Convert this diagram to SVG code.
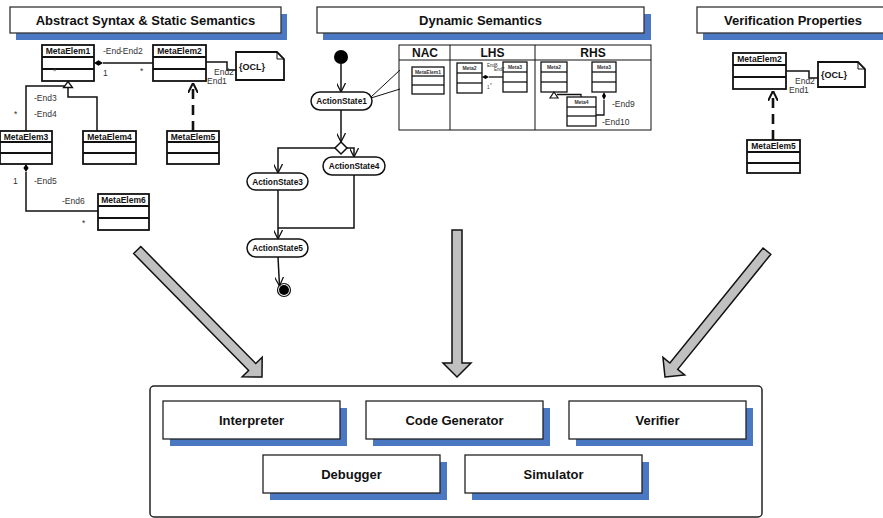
<svg xmlns="http://www.w3.org/2000/svg" width="883" height="518" viewBox="0 0 883 518">
<style>
  .bg{fill:#ffffff}
  .title{fill:#fff;stroke:#333;stroke-width:1.3}
  .shadow{fill:#4a78c2}
  .tt{font-family:"Liberation Sans",Arial,sans-serif;font-weight:bold;font-size:13px;fill:#111;text-anchor:middle}
  .cls{fill:#fff;stroke:#111;stroke-width:1.8}
  .cl{stroke:#111;stroke-width:1.8}
  .cn{font-family:"Liberation Sans",Arial,sans-serif;font-weight:bold;font-size:8.5px;fill:#111;text-anchor:middle}
  .scls{fill:#fff;stroke:#111;stroke-width:1.3}
  .scl{stroke:#111;stroke-width:1.3}
  .sn{font-family:"Liberation Sans",Arial,sans-serif;font-weight:bold;font-size:5px;fill:#333;text-anchor:middle}
  .lb{font-family:"Liberation Sans",Arial,sans-serif;font-size:8.5px;fill:#333}
  .tiny{font-family:"Liberation Sans",Arial,sans-serif;font-size:4.5px;fill:#333}
  .ln{fill:none;stroke:#111;stroke-width:1.5}
  .thin{fill:none;stroke:#111;stroke-width:1}
  .dash{fill:none;stroke:#111;stroke-width:2.6;stroke-dasharray:10 6}
  .act{fill:#fff;stroke:#111;stroke-width:1.5}
  .an{font-family:"Liberation Sans",Arial,sans-serif;font-weight:bold;font-size:8.3px;fill:#111;text-anchor:middle}
  .hd{font-family:"Liberation Sans",Arial,sans-serif;font-weight:bold;font-size:12px;fill:#111;text-anchor:middle}
  .ocl{font-family:"Liberation Sans",Arial,sans-serif;font-weight:bold;font-size:9px;fill:#111}
  .big{fill:#c0c0c0;stroke:#111;stroke-width:1.5;stroke-linejoin:miter}
  .box{fill:#fff;stroke:#222;stroke-width:1.3}
  .bt{font-family:"Liberation Sans",Arial,sans-serif;font-weight:bold;font-size:13px;fill:#111;text-anchor:middle}
</style>
<defs>
  <marker id="open" viewBox="0 0 10 10" refX="10" refY="5" markerWidth="9" markerHeight="9" markerUnits="userSpaceOnUse" orient="auto">
    <path d="M0,0 L10,5 L0,10" fill="none" stroke="#111" stroke-width="1.4"/>
  </marker>
  <marker id="openB" viewBox="0 0 10 10" refX="10" refY="5" markerWidth="10" markerHeight="10" markerUnits="userSpaceOnUse" orient="auto">
    <path d="M0,0 L10,5 L0,10" fill="none" stroke="#111" stroke-width="2"/>
  </marker>
</defs>
<rect class="bg" x="0" y="0" width="883" height="518"/>

<!-- Titles -->
<g id="title-abstract">
  <rect class="shadow" x="16" y="14" width="271" height="26"/>
  <rect class="title" x="10" y="7" width="271" height="26"/>
  <text class="tt" x="145.5" y="25">Abstract Syntax &amp; Static Semantics</text>
</g>
<g id="title-dynamic">
  <rect class="shadow" x="323" y="14" width="328" height="26"/>
  <rect class="title" x="317" y="7" width="327" height="26"/>
  <text class="tt" x="480.5" y="25">Dynamic Semantics</text>
</g>
<g id="title-verification">
  <rect class="shadow" x="703" y="14" width="200" height="26"/>
  <rect class="title" x="697" y="7" width="193" height="26"/>
  <text class="tt" x="793" y="25">Verification Properties</text>
</g>

<!-- Abstract syntax class diagram -->
<g id="MetaElem1">
  <rect class="cls" x="42" y="45" width="52" height="36"/>
  <line class="cl" x1="42" y1="57" x2="94" y2="57"/><line class="cl" x1="42" y1="69" x2="94" y2="69"/>
  <text class="cn" x="68" y="54">MetaElem1</text>
</g>
<g id="MetaElem2">
  <rect class="cls" x="153" y="45" width="53" height="36"/>
  <line class="cl" x1="153" y1="57" x2="206" y2="57"/><line class="cl" x1="153" y1="69" x2="206" y2="69"/>
  <text class="cn" x="179.5" y="54">MetaElem2</text>
</g>
<g id="OCL1">
  <path class="cls" d="M236,52 H277 L284,59 V80 H236 Z"/>
  <path class="thin" d="M277,52 V59 H284"/>
  <text class="ocl" x="239" y="70">{OCL}</text>
</g>
<g id="MetaElem3">
  <rect class="cls" x="0" y="131" width="52" height="33"/>
  <line class="cl" x1="0" y1="142" x2="52" y2="142"/><line class="cl" x1="0" y1="153" x2="52" y2="153"/>
  <text class="cn" x="26" y="139.5">MetaElem3</text>
</g>
<g id="MetaElem4">
  <rect class="cls" x="83" y="131" width="53" height="33"/>
  <line class="cl" x1="83" y1="142" x2="136" y2="142"/><line class="cl" x1="83" y1="153" x2="136" y2="153"/>
  <text class="cn" x="109.5" y="139.5">MetaElem4</text>
</g>
<g id="MetaElem5">
  <rect class="cls" x="167" y="131" width="52" height="33"/>
  <line class="cl" x1="167" y1="142" x2="219" y2="142"/><line class="cl" x1="167" y1="153" x2="219" y2="153"/>
  <text class="cn" x="193" y="139.5">MetaElem5</text>
</g>
<g id="MetaElem6">
  <rect class="cls" x="98" y="194" width="51" height="36"/>
  <line class="cl" x1="98" y1="206" x2="149" y2="206"/><line class="cl" x1="98" y1="218" x2="149" y2="218"/>
  <text class="cn" x="123.5" y="202.5">MetaElem6</text>
</g>

<!-- Dynamic semantics activity -->
<g id="initial"><circle cx="341" cy="57" r="7" fill="#000"/></g>
<g id="ActionState1">
  <rect class="act" x="311" y="92" width="61" height="18" rx="9"/>
  <text class="an" x="341.5" y="104">ActionState1</text>
</g>
<g id="decision"><polygon class="act" points="341,142 347,148 341,154 335,148"/></g>
<g id="ActionState4">
  <rect class="act" x="323" y="157" width="62" height="18" rx="9"/>
  <text class="an" x="354" y="169">ActionState4</text>
</g>
<g id="ActionState3">
  <rect class="act" x="247" y="173" width="61" height="17" rx="8.5"/>
  <text class="an" x="277.5" y="184.5">ActionState3</text>
</g>
<g id="ActionState5">
  <rect class="act" x="247" y="239" width="61" height="18" rx="9"/>
  <text class="an" x="277.5" y="251">ActionState5</text>
</g>
<g id="final">
  <circle cx="284" cy="290" r="6.5" fill="#fff" stroke="#111" stroke-width="1.2"/>
  <circle cx="284" cy="290" r="5" fill="#000"/>
</g>

<!-- Rule NAC/LHS/RHS -->
<g id="rule">
  <rect x="399" y="45" width="252" height="85" fill="#fff" stroke="#111" stroke-width="1"/>
  <line class="thin" x1="399" y1="60" x2="651" y2="60"/>
  <line class="thin" x1="450" y1="45" x2="450" y2="130"/>
  <line class="thin" x1="535" y1="45" x2="535" y2="130"/>
  <text class="hd" x="425" y="57">NAC</text>
  <text class="hd" x="492.5" y="57">LHS</text>
  <text class="hd" x="593" y="57">RHS</text>
</g>
<g id="NAC-MetaElem1">
  <rect class="scls" x="412" y="67" width="32" height="27"/>
  <line class="scl" x1="412" y1="76" x2="444" y2="76"/><line class="scl" x1="412" y1="85" x2="444" y2="85"/>
  <text class="sn" x="428" y="73.5">MetaElem1</text>
</g>
<g id="LHS-Meta2">
  <rect class="scls" x="457" y="63" width="25" height="30"/>
  <line class="scl" x1="457" y1="73" x2="482" y2="73"/><line class="scl" x1="457" y1="83" x2="482" y2="83"/>
  <text class="sn" x="469.5" y="70">Meta2</text>
</g>
<g id="LHS-Meta3">
  <rect class="scls" x="503" y="62" width="24" height="30"/>
  <line class="scl" x1="503" y1="72" x2="527" y2="72"/><line class="scl" x1="503" y1="82" x2="527" y2="82"/>
  <text class="sn" x="515" y="69">Meta3</text>
</g>
<g id="RHS-Meta2">
  <rect class="scls" x="541" y="62" width="26" height="30"/>
  <line class="scl" x1="541" y1="72" x2="567" y2="72"/><line class="scl" x1="541" y1="82" x2="567" y2="82"/>
  <text class="sn" x="554" y="69">Meta2</text>
</g>
<g id="RHS-Meta3">
  <rect class="scls" x="592" y="62" width="24" height="30"/>
  <line class="scl" x1="592" y1="72" x2="616" y2="72"/><line class="scl" x1="592" y1="82" x2="616" y2="82"/>
  <text class="sn" x="604" y="69">Meta3</text>
</g>
<g id="RHS-Meta4">
  <rect class="scls" x="567" y="97" width="29" height="29"/>
  <line class="scl" x1="567" y1="107" x2="596" y2="107"/><line class="scl" x1="567" y1="116" x2="596" y2="116"/>
  <text class="sn" x="581.5" y="104">Meta4</text>
</g>

<!-- Verification -->
<g id="V-MetaElem2">
  <rect class="cls" x="733" y="53" width="53" height="36"/>
  <line class="cl" x1="733" y1="65" x2="786" y2="65"/><line class="cl" x1="733" y1="77" x2="786" y2="77"/>
  <text class="cn" x="759.5" y="62">MetaElem2</text>
</g>
<g id="OCL2">
  <path class="cls" d="M818,62 H858 L865,69 V87 H818 Z"/>
  <path class="thin" d="M858,62 V69 H865"/>
  <text class="ocl" x="821" y="78">{OCL}</text>
</g>
<g id="V-MetaElem5">
  <rect class="cls" x="747" y="140" width="53" height="33"/>
  <line class="cl" x1="747" y1="152" x2="800" y2="152"/><line class="cl" x1="747" y1="163" x2="800" y2="163"/>
  <text class="cn" x="773.5" y="149">MetaElem5</text>
</g>

<!-- Tool box -->
<g id="tools">
  <rect x="150" y="386" width="612" height="131" rx="4" fill="#fff" stroke="#222" stroke-width="1.5"/>
</g>
<g id="Interpreter">
  <rect class="shadow" x="170" y="408" width="177" height="38"/>
  <rect class="box" x="163" y="401" width="177" height="38"/>
  <text class="bt" x="251.5" y="424.5">Interpreter</text>
</g>
<g id="CodeGenerator">
  <rect class="shadow" x="373" y="408" width="177" height="38"/>
  <rect class="box" x="366" y="401" width="177" height="38"/>
  <text class="bt" x="454.5" y="424.5">Code Generator</text>
</g>
<g id="Verifier">
  <rect class="shadow" x="576" y="408" width="177" height="38"/>
  <rect class="box" x="569" y="401" width="177" height="38"/>
  <text class="bt" x="657.5" y="424.5">Verifier</text>
</g>
<g id="Debugger">
  <rect class="shadow" x="270" y="462" width="177" height="38"/>
  <rect class="box" x="263" y="455" width="177" height="38"/>
  <text class="bt" x="351.5" y="478.5">Debugger</text>
</g>
<g id="Simulator">
  <rect class="shadow" x="472" y="462" width="177" height="38"/>
  <rect class="box" x="465" y="455" width="177" height="38"/>
  <text class="bt" x="553.5" y="478.5">Simulator</text>
</g>

<!-- Connectors -->
<g id="connectors">
  <!-- MetaElem1 - MetaElem2 composition -->
  <line class="ln" x1="103" y1="63" x2="153" y2="63"/>
  <polygon points="94,63 98.5,60.3 103,63 98.5,65.7" fill="#000"/>
  <text class="lb" x="103" y="54">-End</text>
  <text class="lb" x="120" y="54">-End2</text>
  <text class="lb" x="103" y="76">1</text>
  <text class="lb" x="140" y="74">*</text>
  <text class="lb" x="53" y="74">*</text>
  <!-- MetaElem2 - OCL -->
  <path class="ln" d="M206,62 H227 V70 H236"/>
  <text class="lb" x="214" y="75" font-size="8">End2</text>
  <text class="lb" x="207" y="83.5" font-size="8">End1</text>
  <!-- MetaElem5 -> MetaElem2 dependency -->
  <line class="dash" x1="193" y1="131" x2="193" y2="83" marker-end="url(#openB)"/>
  <!-- generalization -->
  <path class="ln" d="M26,131 V86 H65"/>
  <path class="ln" d="M97,131 V97 H68 V87"/>
  <polygon points="68,81.5 72.5,87.5 63.5,87.5" fill="#fff" stroke="#111" stroke-width="1.3"/>
  <text class="lb" x="34" y="101">-End3</text>
  <text class="lb" x="34" y="117">-End4</text>
  <text class="lb" x="14" y="117">*</text>
  <!-- MetaElem3 - MetaElem6 composition -->
  <path class="ln" d="M26,172 V211 H98"/>
  <polygon points="26,164 28.6,168 26,172 23.4,168" fill="#000"/>
  <text class="lb" x="13" y="184">1</text>
  <text class="lb" x="34" y="184">-End5</text>
  <text class="lb" x="62" y="204">-End6</text>
  <text class="lb" x="82" y="226">*</text>

  <!-- activity flows -->
  <line class="ln" x1="341" y1="64" x2="341" y2="92" marker-end="url(#open)"/>
  <line class="ln" x1="341" y1="110" x2="341" y2="142" marker-end="url(#open)"/>
  <path class="ln" d="M335,148 H278 V173" marker-end="url(#open)"/>
  <path class="ln" d="M347,148 H354 V157" marker-end="url(#open)"/>
  <path class="ln" d="M354,175 V228 H278"/>
  <line class="ln" x1="278" y1="190" x2="278" y2="239" marker-end="url(#open)"/>
  <line class="ln" x1="278" y1="257" x2="279.5" y2="286" marker-end="url(#open)"/>
  <line class="thin" x1="371" y1="97" x2="400" y2="70"/>
  <line class="thin" x1="371" y1="98" x2="400" y2="89"/>

  <!-- LHS association -->
  <line class="scl" x1="489" y1="77" x2="503" y2="77"/>
  <polygon points="482,77 485.5,75 489,77 485.5,79" fill="#000"/>
  <text class="tiny" x="487" y="66.5">End8</text>
  <text class="tiny" x="494" y="70.5">End7</text>
  <text class="tiny" x="487" y="89">1</text>
  <text class="tiny" x="490" y="87">*</text>
  <!-- RHS generalization & composition -->
  <path class="scl" fill="none" d="M557,94.5 H581 V97"/>
  <polygon points="554,92 558,98 550,98" fill="#fff" stroke="#111" stroke-width="1.2"/>
  <path class="scl" fill="none" d="M604,100 V115 H596"/>
  <polygon points="604,92 606,96 604,100 602,96" fill="#000"/>
  <text class="lb" x="612" y="107">-End9</text>
  <text class="lb" x="602" y="125">-End10</text>

  <!-- Verification connectors -->
  <path class="ln" d="M786,71 H809 V78 H818"/>
  <text class="lb" x="795" y="84" font-size="8">End2</text>
  <text class="lb" x="789" y="92.5" font-size="8">End1</text>
  <line class="dash" x1="773" y1="140" x2="773" y2="91" marker-end="url(#openB)"/>

  <!-- big block arrows -->
  <polygon class="big" transform="translate(262,377) rotate(45.5)" points="0,0 -14,-14 -14,-5 -178,-5 -178,5 -14,5 -14,14"/>
  <polygon class="big" transform="translate(457,377) rotate(90)" points="0,0 -14,-14 -14,-5 -147,-5 -147,5 -14,5 -14,14"/>
  <polygon class="big" transform="translate(665,377) rotate(129)" points="0,0 -14,-14 -14,-5 -162,-5 -162,5 -14,5 -14,14"/>
</g>
</svg>
